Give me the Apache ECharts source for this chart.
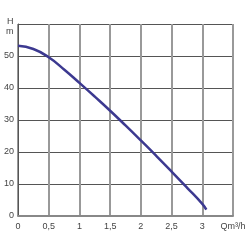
<!DOCTYPE html>
<html>
<head>
<meta charset="utf-8">
<script src="https://cdn.jsdelivr.net/npm/echarts@6/dist/echarts.min.js"></script>
<style>
  html, body { margin: 0; padding: 0; background: #fff; }
  #main { width: 250px; height: 250px; }
</style>
</head>
<body>
<div id="main"></div>
<script>
// flow Q (m³/h) and head H (m)
var flow = [0, 0.25, 0.5, 0.75, 1, 1.25, 1.5, 1.75, 2, 2.25, 2.5, 2.75, 3, 3.066];
var head = [53.2, 52.2, 49.6, 45.8, 41.6, 37.3, 32.9, 28.3, 23.6, 18.8, 13.9, 8.9, 3.8, 2.0];

var points = flow.map(function (q, i) { return [q, head[i]]; });

var myChart = echarts.init(document.getElementById('main'));

myChart.setOption({
  animation: false,
  grid: { left: 18, right: 17, top: 24, bottom: 34 },
  xAxis: {
    type: 'value',
    min: 0,
    max: 3.5,
    interval: 0.5,
    axisLine: { show: true, lineStyle: { color: '#888', width: 2 } },
    axisTick: { show: false },
    splitLine: { show: true, lineStyle: { color: '#999', width: 2 } },
    axisLabel: {
      margin: 6,
      fontSize: 9,
      color: '#444',
      fontFamily: 'Liberation Sans',
      formatter: function (v) {
        if (v === 3.5) return 'Qm³/h';
        return String(v).replace('.', ',');
      }
    }
  },
  yAxis: {
    type: 'value',
    min: 0,
    max: 60,
    interval: 10,
    axisLine: { show: true, lineStyle: { color: '#555', width: 1 } },
    axisTick: { show: false },
    splitLine: { show: true, lineStyle: { color: '#555', width: 1 } },
    axisLabel: {
      margin: 4,
      fontSize: 9,
      color: '#444',
      fontFamily: 'Liberation Sans',
      formatter: function (v) { return v === 60 ? '' : v; }
    }
  },
  graphic: [
    { type: 'text', left: 7, top: 17, style: { text: 'H', fontSize: 9, fill: '#444', fontFamily: 'Liberation Sans' } },
    { type: 'text', left: 6, top: 27, style: { text: 'm', fontSize: 9, fill: '#444', fontFamily: 'Liberation Sans' } }
  ],
  series: [
    {
      type: 'line',
      data: points,
      smooth: true,
      symbol: 'none',
      lineStyle: { color: '#3c3990', width: 2.5 }
    }
  ]
});
</script>
</body>
</html>
